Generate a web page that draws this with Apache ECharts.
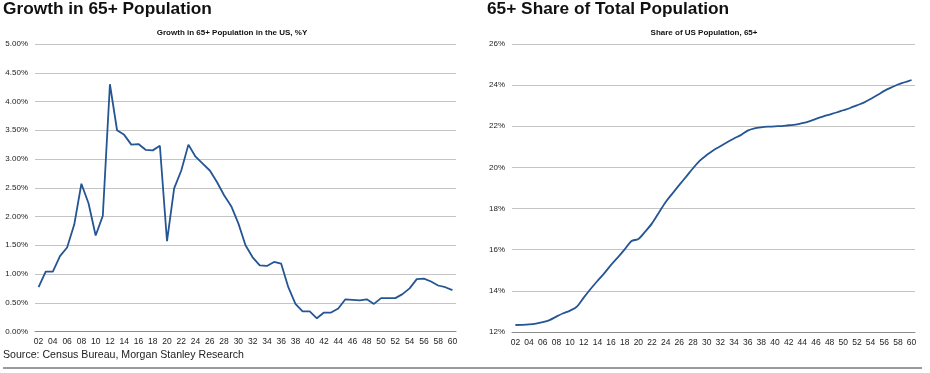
<!DOCTYPE html>
<html>
<head>
<meta charset="utf-8">
<script src="https://cdn.jsdelivr.net/npm/echarts@6/dist/echarts.min.js"></script>
<style>
html,body{margin:0;padding:0;background:#fff;}
#c{width:930px;height:373px;}
</style>
</head>
<body>
<div id="c"></div>
<script>
var years = ['02','03','04','05','06','07','08','09','10','11','12','13','14','15','16','17','18','19','20',
'21','22','23','24','25','26','27','28','29','30','31','32','33','34','35','36','37','38','39','40',
'41','42','43','44','45','46','47','48','49','50','51','52','53','54','55','56','57','58','59','60'];

var growthPct = [0.77,1.04,1.04,1.31,1.46,1.86,2.57,2.23,1.67,2.01,4.30,3.50,3.42,3.25,3.26,3.16,3.15,3.23,1.57,
2.49,2.80,3.25,3.04,2.92,2.80,2.60,2.37,2.18,1.88,1.50,1.29,1.15,1.14,1.21,1.18,0.77,0.48,0.35,0.35,
0.23,0.33,0.33,0.40,0.56,0.55,0.54,0.56,0.48,0.58,0.58,0.58,0.65,0.75,0.91,0.92,0.87,0.80,0.77,0.72];

var sharePct = [12.34,12.35,12.37,12.41,12.48,12.58,12.75,12.91,13.04,13.23,13.67,14.09,14.48,14.85,15.26,15.63,16.02,16.42,16.52,
16.88,17.28,17.80,18.32,18.74,19.15,19.55,19.96,20.33,20.60,20.84,21.03,21.22,21.41,21.57,21.79,21.90,21.95,21.98,22.00,
22.01,22.05,22.08,22.15,22.24,22.36,22.47,22.57,22.67,22.78,22.89,23.02,23.15,23.33,23.52,23.72,23.88,24.03,24.14,24.25];

var mainTitles = ['Growth in 65+ Population', '65+ Share of Total Population'];
var subTitles = ['Growth in 65+ Population in the US, %Y', 'Share of US Population, 65+'];
var sourceText = 'Source: Census Bureau, Morgan Stanley Research';

var sans = "'Liberation Sans',Arial,Helvetica,sans-serif";
var lineColor = '#255593';

var chart = echarts.init(document.getElementById('c'), null, {renderer:'canvas'});

function xAxisCfg(gi){
  return {
    type:'category', gridIndex:gi, data:years, boundaryGap:true,
    axisLine:{show:true, lineStyle:{color:'#8c8c8c', width:1}},
    axisTick:{show:false},
    axisLabel:{interval:1, color:'#222', fontFamily:sans, fontSize:8.5, margin:6}
  };
}

chart.setOption({
  animation:false,
  title:[
    {text:mainTitles[0], left:3, top:1, padding:0, textStyle:{fontFamily:sans, fontWeight:'bold', fontSize:17.3, color:'#111'}},
    {text:mainTitles[1], left:487, top:1, padding:0, textStyle:{fontFamily:sans, fontWeight:'bold', fontSize:17.3, color:'#111'}},
    {text:subTitles[0], left:232, top:29, textAlign:'center', padding:0, textStyle:{fontFamily:sans, fontWeight:'bold', fontSize:8, color:'#111'}},
    {text:subTitles[1], left:704, top:29, textAlign:'center', padding:0, textStyle:{fontFamily:sans, fontWeight:'bold', fontSize:8, color:'#111'}},
    {text:sourceText, left:3, top:349.5, padding:0, textStyle:{fontFamily:sans, fontWeight:'normal', fontSize:10.6, color:'#222'}}
  ],
  grid:[
    {left:35, right:474, top:44, bottom:41.5},
    {left:512, right:15, top:44, bottom:41}
  ],
  xAxis:[xAxisCfg(0), xAxisCfg(1)],
  yAxis:[
    {type:'value', gridIndex:0, min:0, max:5, interval:0.5,
     axisLine:{show:false}, axisTick:{show:false},
     splitLine:{lineStyle:{color:'#c4c4c4', width:1}},
     axisLabel:{color:'#222', fontFamily:sans, fontSize:8, margin:7, formatter:function(v){return v.toFixed(2)+'%';}}},
    {type:'value', gridIndex:1, min:12, max:26, interval:2,
     axisLine:{show:false}, axisTick:{show:false},
     splitLine:{lineStyle:{color:'#c4c4c4', width:1}},
     axisLabel:{color:'#222', fontFamily:sans, fontSize:8, margin:7, formatter:function(v){return v+'%';}}}
  ],
  series:[
    {type:'line', xAxisIndex:0, yAxisIndex:0, data:growthPct, showSymbol:false, smooth:false,
     lineStyle:{color:lineColor, width:1.8}},
    {type:'line', xAxisIndex:1, yAxisIndex:1, data:sharePct, showSymbol:false, smooth:0.3,
     lineStyle:{color:lineColor, width:1.8}}
  ],
  graphic:[
    {type:'line', shape:{x1:3, y1:368, x2:922, y2:368}, style:{stroke:'#7a7a7a', lineWidth:1.5}}
  ]
});
</script>
</body>
</html>
